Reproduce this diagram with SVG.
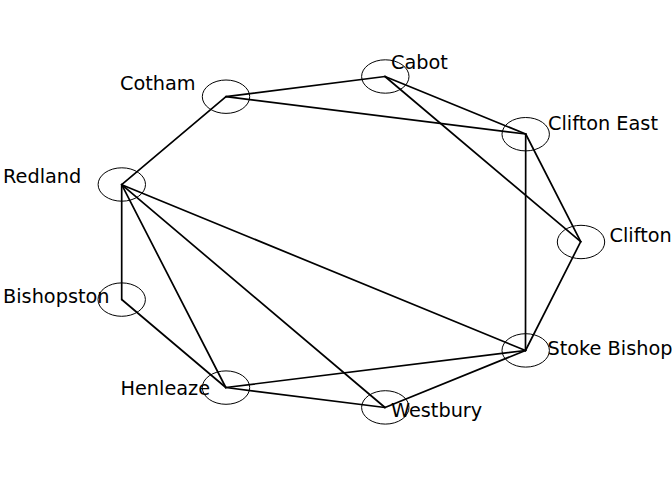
<svg xmlns="http://www.w3.org/2000/svg" width="672" height="480" viewBox="0 0 672 480">
<style>
.edge{stroke:#000;stroke-width:1.7;fill:none;stroke-linecap:round}
.node ellipse{fill:none;stroke:#000;stroke-width:1}
.node text{font-family:"DejaVu Sans",sans-serif;font-size:19.3px;fill:#000}
</style>
<rect width="672" height="480" fill="#fff"/>
<g id="connectors">
<line class="edge" x1="226" y1="96.7" x2="385" y2="76.5"/>
<line class="edge" x1="226" y1="96.7" x2="525.7" y2="134"/>
<line class="edge" x1="226" y1="96.7" x2="121.7" y2="184.7"/>
<line class="edge" x1="385" y1="76.5" x2="525.7" y2="134"/>
<line class="edge" x1="385" y1="76.5" x2="580.7" y2="241.7"/>
<line class="edge" x1="525.7" y1="134" x2="580.7" y2="241.7"/>
<line class="edge" x1="525.7" y1="134" x2="525.5" y2="350.5"/>
<line class="edge" x1="580.7" y1="241.7" x2="525.5" y2="350.5"/>
<line class="edge" x1="121.7" y1="184.7" x2="525.5" y2="350.5"/>
<line class="edge" x1="121.7" y1="184.7" x2="385" y2="407.5"/>
<line class="edge" x1="121.7" y1="184.7" x2="225.8" y2="387.5"/>
<line class="edge" x1="121.7" y1="184.7" x2="121.7" y2="299.5"/>
<line class="edge" x1="121.7" y1="299.5" x2="225.8" y2="387.5"/>
<line class="edge" x1="225.8" y1="387.5" x2="525.5" y2="350.5"/>
<line class="edge" x1="225.8" y1="387.5" x2="385" y2="407.5"/>
<line class="edge" x1="385" y1="407.5" x2="525.5" y2="350.5"/>
</g>
<g id="node-cotham" class="node"><ellipse cx="226" cy="96.7" rx="23.7" ry="16.7"/><text x="120" y="90">Cotham</text></g>
<g id="node-cabot" class="node"><ellipse cx="385.3" cy="76.5" rx="23.7" ry="16.7"/><text x="391" y="69">Cabot</text></g>
<g id="node-clifton-east" class="node"><ellipse cx="525.7" cy="134.2" rx="23.7" ry="16.7"/><text x="548" y="130">Clifton East</text></g>
<g id="node-clifton" class="node"><ellipse cx="581" cy="242" rx="23.7" ry="16.7"/><text x="609.5" y="241.7">Clifton</text></g>
<g id="node-stoke-bishop" class="node"><ellipse cx="525.7" cy="350.4" rx="23.7" ry="16.7"/><text x="547.5" y="355">Stoke Bishop</text></g>
<g id="node-westbury" class="node"><ellipse cx="385.3" cy="407.4" rx="23.7" ry="16.7"/><text x="391" y="416.7">Westbury</text></g>
<g id="node-henleaze" class="node"><ellipse cx="226" cy="387.6" rx="23.7" ry="16.7"/><text x="120.5" y="395">Henleaze</text></g>
<g id="node-bishopston" class="node"><ellipse cx="121.7" cy="299.6" rx="23.7" ry="16.7"/><text x="3" y="302.7">Bishopston</text></g>
<g id="node-redland" class="node"><ellipse cx="121.8" cy="184.5" rx="23.7" ry="16.7"/><text x="3" y="182.7">Redland</text></g>
</svg>
